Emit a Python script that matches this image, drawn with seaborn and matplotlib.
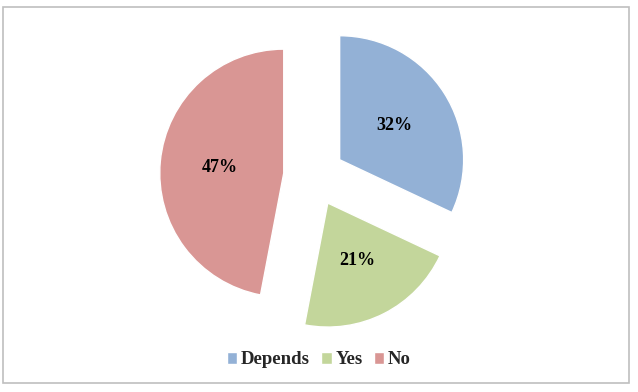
import matplotlib
matplotlib.use("Agg")
import matplotlib.pyplot as plt
import seaborn as sns
from matplotlib.patches import Rectangle

# data
labels = ["Depends", "Yes", "No"]
shares = [32, 21, 47]
colors = ["#93B1D6", "#C3D69B", "#D99694"]

sns.set_theme(style="white")
plt.rcParams["font.family"] = ["Liberation Serif", "DejaVu Serif"]
palette = sns.color_palette(colors)

fig = plt.figure(figsize=(6.38, 3.92), dpi=100)
ax = fig.add_axes([0, 0, 1, 1])

wedges, texts, autotexts = ax.pie(
    shares,
    colors=palette,
    startangle=90,
    counterclock=False,
    explode=[0.245, 0.245, 0.245],
    autopct="%1.0f%%",
    pctdistance=0.52,
    radius=1.0,
    textprops={"fontsize": 13, "fontweight": "bold", "color": "black"},
)

# map 1 unit of radius to ~124 px, pie centre at (314, 176) px
ax.set_xlim(-314 / 124, (638 - 314) / 124)
ax.set_ylim((176 - 392) / 124, 176 / 124)
ax.axis("off")

leg = fig.legend(
    wedges, labels,
    loc="center", bbox_to_anchor=(0.5, 1 - 360 / 392),
    ncol=3, frameon=False,
    handlelength=0.55, handleheight=0.55, handletextpad=0.2, columnspacing=0.6,
    prop={"size": 13.5, "weight": "bold"},
)

# light grey chart border
fig.patches.append(Rectangle((3 / 638, 1 - 383 / 392), 626 / 638, 376 / 392,
                             transform=fig.transFigure, fill=False,
                             edgecolor="#BFBFBF", linewidth=1.2))

fig.savefig("out.png", dpi=100)
